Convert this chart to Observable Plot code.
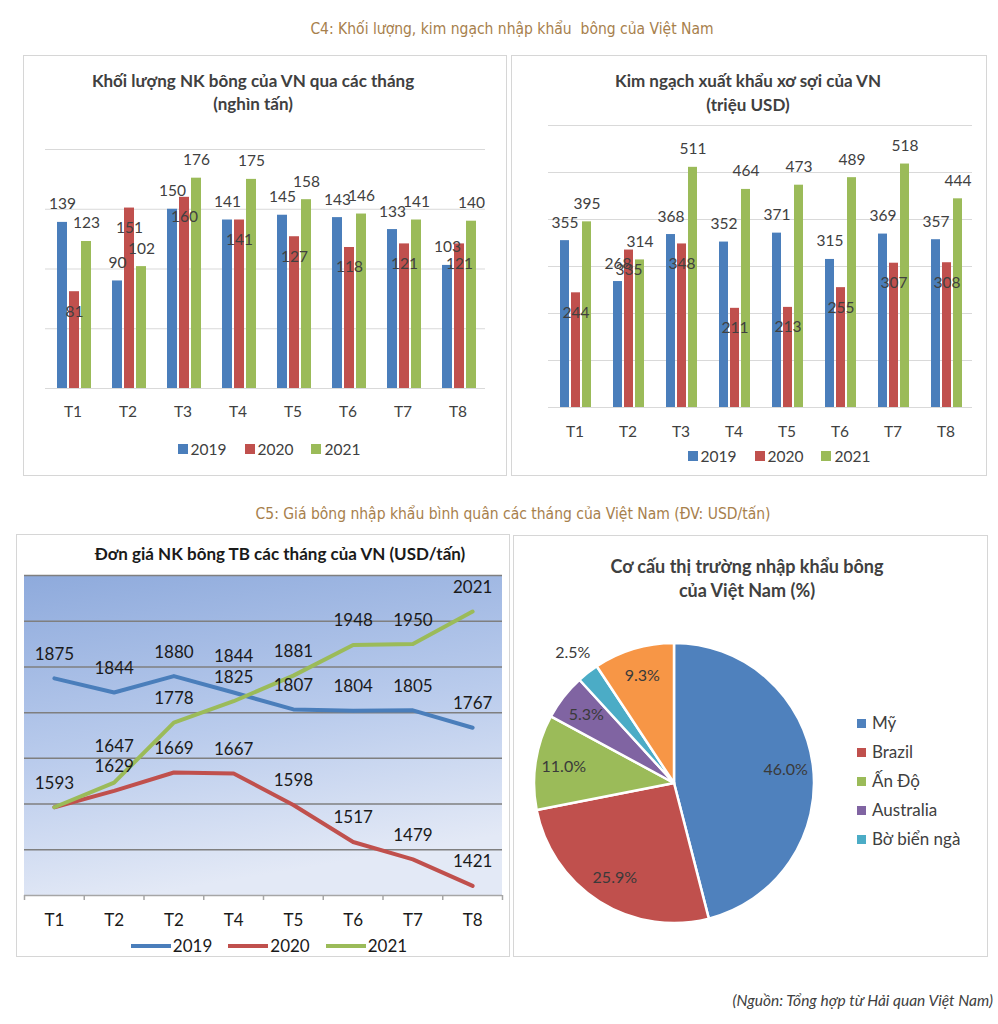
<!DOCTYPE html>
<html>
<head>
<meta charset="utf-8">
<script src="https://cdn.jsdelivr.net/npm/d3@7"></script>
<script src="https://cdn.jsdelivr.net/npm/@observablehq/plot@0.6"></script>
<style>
  body { margin: 0; background: #fff; }
  #page { position: relative; width: 998px; height: 1024px; overflow: hidden; font-family: Lato, "Open Sans", sans-serif; }
  #page svg { display: block; }
</style>
</head>
<body>
<div id="page"></div>
<script>
// ---------- DATA ----------
const months = ["T1", "T2", "T3", "T4", "T5", "T6", "T7", "T8"];
const years = ["2019", "2020", "2021"];

// Khối lượng NK bông (nghìn tấn)
const vol2019 = [139, 90, 150, 141, 145, 143, 133, 103];
const vol2020 = [81, 151, 160, 141, 127, 118, 121, 121];
const vol2021 = [123, 102, 176, 175, 158, 146, 141, 140];
const volTicks = [0, 50, 100, 150, 200];

// Kim ngạch xuất khẩu xơ sợi (triệu USD)
const exp2019 = [355, 268, 368, 352, 371, 315, 369, 357];
const exp2020 = [244, 335, 348, 211, 213, 255, 307, 308];
const exp2021 = [395, 314, 511, 464, 473, 489, 518, 444];
const expTicks = [0, 100, 200, 300, 400, 500, 600];

// Đơn giá NK bông TB (USD/tấn)
const priceMonths = ["T1", "T2", "T2", "T4", "T5", "T6", "T7", "T8"];
const price2019 = [1875, 1844, 1880, 1844, 1807, 1804, 1805, 1767];
const price2020 = [1593, 1629, 1669, 1667, 1598, 1517, 1479, 1421];
const price2021 = [1593, 1647, 1778, 1825, 1881, 1948, 1950, 2021];
const priceTicks = [1500, 1600, 1700, 1800, 1900, 2000, 2100];

// Cơ cấu thị trường (%)
const pieNames = ["Mỹ", "Brazil", "Ấn Độ", "Australia", "Bờ biển ngà", "Khác"];
const pieShares = [46.0, 25.9, 11.0, 5.3, 2.5, 9.3];

// ---------- STYLE ----------
const FONT = "Lato, 'Open Sans', sans-serif";
const barColors = ["#4A7EBB", "#C0504D", "#9BBB59"];
const lineColors = ["#4A7EBB", "#C0504D", "#9BBB59"];
const pieColors = ["#4F81BD", "#C0504D", "#9BBB59", "#8064A2", "#4BACC6", "#F79646"];
const NS = "http://www.w3.org/2000/svg";

const page = document.getElementById("page");
function el(css, html) {
  const e = document.createElement("div");
  e.style.cssText = "position:absolute;" + css;
  if (html != null) e.innerHTML = html;
  page.appendChild(e);
  return e;
}
function centerText(txt, cx, cy, size, css = "") {
  el(`left:${cx - 400}px;top:${cy - 0.7 * size}px;width:800px;text-align:center;font-size:${size}px;line-height:${size * 1.3}px;white-space:nowrap;${css}`, txt);
}
function place(svg, left, top) {
  const d = el(`left:${left}px;top:${top}px;`);
  d.appendChild(svg);
}

// ---------- BAR CHARTS ----------
function barChart(series, yMax, ticks, dims) {
  const table = months.flatMap((m, i) => years.map((yr, j) => ({month: m, year: yr, value: series[j][i]})));
  return Plot.plot({
    width: dims.width, height: dims.height,
    marginTop: dims.mt, marginBottom: dims.mb, marginLeft: dims.ml, marginRight: dims.mr,
    style: {fontFamily: FONT, fontSize: "15.5px", color: "#404040", background: "transparent", overflow: "visible"},
    fx: {domain: months, padding: 0, label: null, axis: "bottom", tickSize: 0, tickPadding: dims.tp},
    x: {domain: years, axis: null, paddingInner: 0.18, paddingOuter: 0.83, align: 0.56},
    y: {domain: [0, yMax], axis: null},
    color: {domain: years, range: barColors},
    marks: [
      Plot.gridY(ticks, {stroke: "#d9d9d9", strokeOpacity: 1, strokeWidth: 1}),
      Plot.barY(table, {fx: "month", x: "year", y: "value", fill: "year"}),
      Plot.text(table, {filter: d => d.year !== "2020", fx: "month", x: "year", y: "value", text: d => String(d.value), dy: -18, fill: "#404040"}),
      Plot.text(table, {filter: d => d.year === "2020", fx: "month", x: "year", y: "value", text: d => String(d.value), dy: 20, fill: "#404040"})
    ]
  });
}

place(barChart([vol2019, vol2020, vol2021], 200, volTicks,
  {width: 484, height: 421, mt: 94, mb: 88, ml: 20, mr: 20, tp: 17}), 23, 55);
place(barChart([exp2019, exp2020, exp2021], 600, expTicks,
  {width: 476, height: 421, mt: 70, mb: 69, ml: 37, mr: 15, tp: 18}), 511, 55);

// ---------- LINE CHART ----------
const priceSeries = [price2019, price2020, price2021];
const priceTable = years.flatMap((yr, j) => priceSeries[j].map((v, i) => ({i, year: yr, value: v,
  dup: priceSeries.slice(0, j).some(s => s[i] === v)})));
const raised = new Set(["2019-3", "2021-1"]);

const gradientMark = (index, scales, values, dims) => {
  const g = document.createElementNS(NS, "g");
  g.innerHTML = `<defs><linearGradient id="bgGrad" x1="0" y1="0" x2="0.25" y2="1">
      <stop offset="0" stop-color="#8eaadc"/><stop offset="0.55" stop-color="#b9cbec"/><stop offset="1" stop-color="#e3e9f6"/>
    </linearGradient></defs>`;
  const r = document.createElementNS(NS, "rect");
  r.setAttribute("x", dims.marginLeft);
  r.setAttribute("y", dims.marginTop);
  r.setAttribute("width", dims.width - dims.marginLeft - dims.marginRight);
  r.setAttribute("height", dims.height - dims.marginTop - dims.marginBottom);
  r.setAttribute("fill", "url(#bgGrad)");
  g.appendChild(r);
  return g;
};

const lineChart = Plot.plot({
  width: 494, height: 423, marginTop: 41, marginBottom: 62, marginLeft: 8, marginRight: 8,
  style: {fontFamily: FONT, fontSize: "17px", color: "#1a1a1a", background: "transparent", overflow: "visible"},
  x: {type: "linear", domain: [-0.5, 7.5], axis: null},
  y: {domain: [1400, 2100], axis: null},
  color: {domain: years, range: lineColors},
  marks: [
    gradientMark,
    Plot.gridY(priceTicks, {stroke: "#7f7f7f", strokeOpacity: 1, strokeWidth: 1.5}),
    Plot.ruleY([1400], {stroke: "#a6a6a6", strokeWidth: 1.5}),
    Plot.axisX(d3.range(-0.5, 8, 1), {tickSize: 5, tickFormat: () => "", label: null, stroke: "#a6a6a6", strokeWidth: 1.5}),
    Plot.axisX(d3.range(8), {tickSize: 0, tickPadding: 18, tickFormat: i => priceMonths[i], label: null, fill: "#1a1a1a", fontSize: 17}),
    Plot.line(priceTable, {x: "i", y: "value", z: "year", stroke: "year", strokeWidth: 4, strokeLinejoin: "round"}),
    Plot.text(priceTable, {filter: d => !d.dup && !raised.has(d.year + "-" + d.i), x: "i", y: "value", text: d => String(d.value), dy: -24, fill: "#1a1a1a"}),
    Plot.text(priceTable, {filter: d => !d.dup && raised.has(d.year + "-" + d.i), x: "i", y: "value", text: d => String(d.value), dy: -36, fill: "#1a1a1a"})
  ]
});
place(lineChart, 16, 534);

// ---------- PIE CHART ----------
const pieTable = pieNames.map((name, i) => ({name, share: pieShares[i]}));
const pieArcs = d3.pie().sort(null).value(d => d.share)(pieTable);
const pieLabels = pieArcs.map(a => {
  const mid = (a.startAngle + a.endAngle) / 2;
  const rf = a.data.share < 3 ? 1.18 : 0.8;
  return {x: rf * Math.sin(mid), y: rf * Math.cos(mid), label: d3.format(".1f")(a.data.share) + "%"};
});
const pieMark = (index, scales) => {
  const g = document.createElementNS(NS, "g");
  const cx = scales.x(0), cy = scales.y(0), r = scales.x(1) - scales.x(0);
  g.setAttribute("transform", `translate(${cx},${cy})`);
  const arc = d3.arc().innerRadius(0).outerRadius(r);
  pieArcs.forEach((a, i) => {
    const p = document.createElementNS(NS, "path");
    p.setAttribute("d", arc(a));
    p.setAttribute("fill", scales.color ? scales.color(a.data.name) : pieColors[i]);
    p.setAttribute("stroke", "#fff");
    p.setAttribute("stroke-width", "2.5");
    p.setAttribute("stroke-linejoin", "round");
    g.appendChild(p);
  });
  return g;
};
const pieChart = Plot.plot({
  width: 475, height: 422, marginTop: 108, marginBottom: 34, marginLeft: 21, marginRight: 174,
  style: {fontFamily: FONT, fontSize: "16px", color: "#404040", background: "transparent", overflow: "visible"},
  x: {domain: [-1, 1], axis: null},
  y: {domain: [-1, 1], axis: null},
  color: {domain: pieNames, range: pieColors},
  marks: [
    pieMark,
    Plot.text(pieLabels, {x: "x", y: "y", text: "label", fill: "#3a3a3a"})
  ]
});
place(pieChart, 513, 535);

// ---------- TEXTS ----------
const secCss = "color:#a7804c;font-family:'Liberation Sans Narrow','DejaVu Sans Condensed',Lato,sans-serif;font-stretch:condensed;";
centerText("C4: Khối lượng, kim ngạch nhập khẩu&nbsp; bông của Việt Nam", 512, 30, 15.5, secCss);
centerText("C5: Giá bông nhập khẩu bình quân các tháng của Việt Nam (ĐV: USD/tấn)", 513, 515, 15.5, secCss);

const tCss = "font-weight:bold;color:#404040;";
centerText("Khối lượng NK bông của VN qua các tháng", 253, 82, 17, tCss);
centerText("(nghìn tấn)", 253, 105, 17, tCss);
centerText("Kim ngạch xuất khẩu xơ sợi của VN", 748, 82, 17, tCss);
centerText("(triệu USD)", 748, 106, 17, tCss);
centerText("Đơn giá NK bông TB các tháng của VN (USD/tấn)", 280, 555, 17, "font-weight:bold;color:#1a1a1a;");
centerText("Cơ cấu thị trường nhập khẩu bông", 747, 568, 18, tCss);
centerText("của Việt Nam (%)", 747, 592, 18, tCss);

// bar legends
function squareLegend(cx, cy) {
  const html = years.map((y, i) =>
    `<span style="display:inline-flex;align-items:center;margin:0 9px;"><span style="display:inline-block;width:10px;height:10px;background:${barColors[i]};margin-right:3px;"></span>${y}</span>`).join("");
  centerText(html, cx, cy, 15.5, "color:#404040;");
}
squareLegend(269, 449);
squareLegend(779, 456);

// line legend
const lineLegend = years.map((y, i) =>
  `<span style="display:inline-flex;align-items:center;margin:0 8px;"><span style="display:inline-block;width:40px;height:4px;background:${lineColors[i]};margin-right:2px;"></span>${y}</span>`).join("");
centerText(lineLegend, 269, 943, 17, "color:#1a1a1a;");

// pie legend
pieNames.slice(0, 5).forEach((n, i) => {
  const cy = 723 + i * 29;
  el(`left:857px;top:${cy - 4.5}px;width:9px;height:9px;background:${pieColors[i]};`);
  el(`left:872px;top:${cy - 11.5}px;font-size:17px;line-height:22px;color:#404040;white-space:nowrap;`, n);
});

// caption
el("right:5px;top:990px;font-size:15.5px;line-height:20px;font-style:italic;color:#404040;white-space:nowrap;", "(Nguồn: Tổng hợp từ Hải quan Việt Nam)");

// panel borders (drawn last)
[[23, 55, 484, 421], [511, 55, 476, 421], [16, 534, 494, 423], [513, 535, 475, 422]].forEach(([l, t, w, h]) => {
  el(`left:${l}px;top:${t}px;width:${w}px;height:${h}px;box-sizing:border-box;border:1px solid #d6d6d6;pointer-events:none;`);
});
</script>
</body>
</html>
